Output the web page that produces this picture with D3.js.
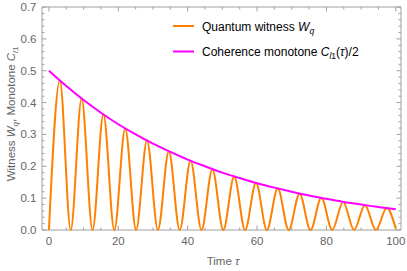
<!DOCTYPE html>
<html lang="en">
<head>
  <meta charset="UTF-8">
  <title>Quantum witness</title>
  <script src="https://d3js.org/d3.v7.min.js"></script>
  <style>
    body { margin: 0; background: white; }
    svg { font-family: "Liberation Sans", Arial, Helvetica, sans-serif; }
    .lbl { fill: #666; font-size: 11.5px; }
    .frame line { stroke: #a0a0a0; stroke-width: 1px; }
  </style>
</head>
<body>
<svg id="chart"></svg>
<script>
// Coherence monotone C_l1(tau)/2, read every 5 time units
const envT = [0, 5, 10, 15, 20, 25, 30, 35, 40, 45, 50, 55, 60, 65, 70, 75, 80, 85, 90, 95, 100];
const envV = [0.500, 0.452, 0.408, 0.368, 0.332, 0.300, 0.271, 0.245, 0.221, 0.200, 0.180,
              0.163, 0.147, 0.133, 0.120, 0.108, 0.098, 0.088, 0.080, 0.072, 0.065];

// Quantum witness W_q: zeros and peaks
const zeroT = [0, 6.28, 12.57, 18.85, 25.13, 31.42, 37.70, 43.98, 50.27, 56.55, 62.83,
               69.12, 75.40, 81.68, 87.96, 94.25];
const peakT = [3.14, 9.42, 15.71, 21.99, 28.27, 34.56, 40.84, 47.12, 53.41, 59.69, 65.97,
               72.26, 78.54, 84.82, 91.11, 97.39];
const peakV = [0.469, 0.413, 0.363, 0.319, 0.281, 0.247, 0.217, 0.191, 0.168, 0.148, 0.130,
               0.114, 0.101, 0.089, 0.078, 0.069];
const endPoint = [100, 0.004];

const xTicks = [0, 20, 40, 60, 80, 100];
const yTicks = [0.0, 0.1, 0.2, 0.3, 0.4, 0.5, 0.6, 0.7];

const W = 407, H = 271;
const mLeft = 42, mRight = 401, mTop = 7, mBottom = 230;

const svg = d3.select("#chart").attr("width", W).attr("height", H);

const x = d3.scaleLinear().domain([-2, 101.5]).range([mLeft, mRight]);
const y = d3.scaleLinear().domain([0, 0.7]).range([mBottom, mTop]);

// frame with inward ticks on all sides
const frame = svg.append("g").attr("class", "frame");
frame.append("line").attr("x1", mLeft).attr("x2", mRight).attr("y1", mBottom).attr("y2", mBottom);
frame.append("line").attr("x1", mLeft).attr("x2", mRight).attr("y1", mTop).attr("y2", mTop);
frame.append("line").attr("x1", mLeft).attr("x2", mLeft).attr("y1", mTop).attr("y2", mBottom);
frame.append("line").attr("x1", mRight).attr("x2", mRight).attr("y1", mTop).attr("y2", mBottom);

const xMinor = d3.range(0, 101, 5);
xMinor.forEach(t => {
  const len = t % 20 === 0 ? 4.5 : 2.5;
  frame.append("line").attr("x1", x(t)).attr("x2", x(t)).attr("y1", mBottom).attr("y2", mBottom - len);
  frame.append("line").attr("x1", x(t)).attr("x2", x(t)).attr("y1", mTop).attr("y2", mTop + len);
});
const yMinor = d3.range(0, 36).map(i => i * 0.02);
yMinor.forEach((v, i) => {
  const len = i % 5 === 0 ? 4.5 : 2.5;
  frame.append("line").attr("x1", mLeft).attr("x2", mLeft + len).attr("y1", y(v)).attr("y2", y(v));
  frame.append("line").attr("x1", mRight).attr("x2", mRight - len).attr("y1", y(v)).attr("y2", y(v));
});

svg.selectAll(".xl").data(xTicks).join("text")
  .attr("class", "lbl").attr("x", d => x(d)).attr("y", 245)
  .attr("text-anchor", "middle").text(d => d);
svg.selectAll(".yl").data(yTicks).join("text")
  .attr("class", "lbl").attr("x", 36.5).attr("y", d => y(d) + 4)
  .attr("text-anchor", "end").text(d => d.toFixed(1));

// axis titles
const xt = svg.append("text").attr("class", "lbl").attr("x", 223).attr("y", 265)
  .attr("text-anchor", "middle");
xt.append("tspan").text("Time ");
xt.append("tspan").attr("font-style", "italic").text("τ");

const yt = svg.append("text").attr("class", "lbl")
  .attr("transform", "translate(15,114) rotate(-90)").attr("text-anchor", "middle");
yt.append("tspan").text("Witness ");
yt.append("tspan").attr("font-style", "italic").text("W");
yt.append("tspan").attr("font-style", "italic").attr("font-size", "8px").attr("dy", 2.5).text("q");
yt.append("tspan").attr("dy", -2.5).text(", Monotone ");
yt.append("tspan").attr("font-style", "italic").text("C");
yt.append("tspan").attr("font-style", "italic").attr("font-size", "8px").attr("dy", 2.5).text("l");
yt.append("tspan").attr("font-size", "8px").text("1");

// witness curve: zeros and peaks alternate
const wq = [];
zeroT.forEach((t, i) => {
  wq.push([t, 0]);
  wq.push([peakT[i], peakV[i]]);
});
wq.push(endPoint);

svg.append("clipPath").attr("id", "clip").append("rect")
  .attr("x", mLeft).attr("y", mTop).attr("width", mRight - mLeft).attr("height", mBottom - mTop + 2);

const line = d3.line().x(d => x(d[0])).y(d => y(d[1])).curve(d3.curveMonotoneX);

svg.append("path").datum(wq)
  .attr("clip-path", "url(#clip)")
  .attr("d", line).attr("fill", "none")
  .attr("stroke", "#ff8000").attr("stroke-width", 2);

svg.append("path").datum(envT.map((t, i) => [t, envV[i]]))
  .attr("d", line.curve(d3.curveNatural)).attr("fill", "none")
  .attr("stroke", "#ff00ff").attr("stroke-width", 2);

// legend
const legend = svg.append("g");
legend.append("line").attr("x1", 173).attr("x2", 194).attr("y1", 26).attr("y2", 26)
  .attr("stroke", "#ff8000").attr("stroke-width", 2);
legend.append("line").attr("x1", 173).attr("x2", 194).attr("y1", 51.5).attr("y2", 51.5)
  .attr("stroke", "#ff00ff").attr("stroke-width", 2);

const l1 = legend.append("text").attr("x", 202).attr("y", 30.5)
  .attr("font-size", "12px").attr("fill", "#000");
l1.append("tspan").text("Quantum witness ");
l1.append("tspan").attr("font-style", "italic").text("W");
l1.append("tspan").attr("font-style", "italic").attr("font-size", "8.5px").attr("dy", 3).text("q");

const l2 = legend.append("text").attr("x", 202).attr("y", 56)
  .attr("font-size", "12px").attr("fill", "#000");
l2.append("tspan").text("Coherence monotone ");
l2.append("tspan").attr("font-style", "italic").text("C");
l2.append("tspan").attr("font-style", "italic").attr("font-size", "8.5px").attr("dy", 3).text("l");
l2.append("tspan").attr("font-size", "8.5px").text("1");
l2.append("tspan").attr("dy", -3).text("(");
l2.append("tspan").attr("font-style", "italic").text("τ");
l2.append("tspan").text(")/2");
</script>
</body>
</html>
